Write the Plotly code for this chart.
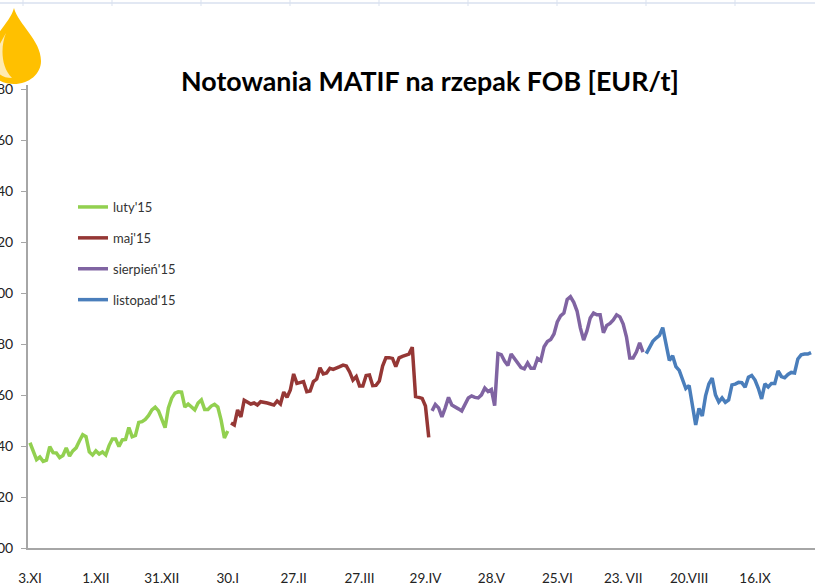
import plotly.graph_objects as go

W, H = 815, 585
L, R, T, B = 28, 0, 85, 37

tick_labels = ["3.XI", "1.XII", "31.XII", "30.I", "27.II", "27.III", "29.IV",
               "28.V", "25.VI", "23. VII", "20.VIII", "16.IX"]
y_ticks = [300, 320, 340, 360, 380, 400, 420, 440, 460, 480]

luty = [341.3, 337.7, 334.7, 335.7, 334.0, 334.5, 339.8, 337.4, 337.3, 335.5,
        336.3, 339.3, 336.1, 338.1, 339.3, 342.0, 344.5, 343.7, 337.7, 336.5,
        338.1, 336.9, 337.7, 336.5, 340.2, 342.8, 342.8, 339.8, 342.4, 342.6,
        347.3, 343.7, 344.2, 349.3, 349.6, 350.5, 352.0, 354.2, 355.3, 353.8,
        350.2, 347.2, 355.0, 358.8, 360.8, 361.3, 361.2, 355.3, 356.5, 355.3,
        354.2, 356.9, 358.1, 354.4, 354.4, 355.7, 356.4, 355.3, 350.2, 343.2,
        345.9]
maj = [349.1, 348.3, 354.2, 351.4, 358.0, 357.1, 356.5, 356.9, 356.1, 357.4,
       357.3, 356.9, 356.5, 356.1, 357.7, 356.5, 361.2, 359.1, 362.0, 368.3,
       364.6, 365.0, 365.3, 361.3, 361.6, 365.3, 366.3, 370.7, 368.3, 368.7,
       370.5, 370.1, 370.5, 371.2, 371.8, 371.4, 369.1, 365.9, 367.3, 363.6,
       363.6, 367.7, 367.9, 363.7, 363.8, 365.5, 371.4, 374.7, 374.7, 374.4,
       371.2, 374.6, 375.2, 375.5, 376.1, 378.8, 359.4, 359.1, 358.7, 355.7,
       343.4]
sierpien = [353.8, 356.3, 355.0, 351.5, 355.0, 359.1, 356.1, 355.5, 354.6, 353.8,
            356.1, 358.9, 359.7, 359.1, 358.9, 360.1, 362.8, 361.4, 362.2, 355.9,
            376.3, 375.9, 373.4, 371.6, 376.1, 374.2, 372.4, 370.8, 370.3, 372.6,
            370.5, 370.5, 374.4, 373.5, 379.0, 381.0, 381.8, 384.0, 388.7, 391.1,
            392.2, 397.5, 398.6, 396.4, 393.0, 386.4, 381.6, 385.2, 390.3, 392.2,
            391.5, 391.5, 384.5, 387.3, 388.1, 389.5, 391.5, 390.7, 387.9, 382.8,
            374.6, 374.6, 376.9, 380.5, 376.9]
listopad = [376.3, 378.7, 381.1, 382.4, 383.4, 386.5, 380.1, 373.6, 375.4, 371.2,
            369.7, 365.9, 362.6, 363.8, 355.0, 348.3, 354.8, 351.8, 359.7, 364.4,
            366.7, 360.1, 357.3, 358.9, 357.2, 358.1, 364.0, 364.3, 365.0, 364.9,
            363.1, 367.0, 367.7, 365.9, 362.7, 358.5, 364.4, 363.2, 364.6, 364.6,
            369.5, 367.3, 366.8, 368.1, 368.9, 368.7, 374.2, 375.8, 376.1, 376.1,
            376.7]

series = [("luty'15", luty, "#92d050"), ("maj'15", maj, "#953735"),
          ("sierpień'15", sierpien, "#8064a2"), ("listopad'15", listopad, "#4a7ebb")]

fig = go.Figure()
start = 0
for name, vals, col in series:
    fig.add_trace(go.Scatter(x=list(range(start, start + len(vals))), y=vals, mode="lines",
                             name=name, legendgroup=name,
                             line=dict(color=col, width=3.5, shape="linear")))
    start += len(vals)


def px(x):
    return (x - L) / (W - L - R)


def py(y):
    return 1 - (y - T) / (H - T - B)


def path(parts):
    out = []
    for p in parts:
        if isinstance(p, str):
            out.append(p)
        else:
            out.append(f"{px(p[0]):.5f},{py(p[1]):.5f}")
    return " ".join(out)


shapes = []
# spreadsheet gridlines behind the chart image, along the top edge
grid = "#d9e1ef"
shapes.append(dict(type="line", xref="paper", yref="paper", x0=px(0), x1=px(W), y0=py(3), y1=py(3),
                   line=dict(color=grid, width=1.5)))
for gx in range(23, 815, 89):
    shapes.append(dict(type="line", xref="paper", yref="paper", x0=px(gx), x1=px(gx),
                       y0=py(0), y1=py(6), line=dict(color=grid, width=1)))
# droplet logo
drop = path(["M", (14, 8), "C", (18, 24), (41, 40), (41, 61), "C", (41, 74), (29, 84), (14, 84),
             "C", (-1, 84), (-13, 74), (-13, 61), "C", (-13, 40), (10, 24), (14, 8), "Z"])
shapes.append(dict(type="path", xref="paper", yref="paper", path=drop,
                   fillcolor="#ffc000", line=dict(width=0)))
shine = path(["M", (6, 33), "C", (1, 45), (0, 66), (12, 78), "C", (3, 78), (-3, 74), (-6, 66),
              "C", (-6, 52), (1, 42), (6, 33), "Z"])
shapes.append(dict(type="path", xref="paper", yref="paper", path=shine,
                   fillcolor="#ffeab0", line=dict(width=0)))

fig.update_layout(
    width=W, height=H, autosize=False,
    margin=dict(l=L, r=R, t=T, b=B, pad=0),
    paper_bgcolor="white", plot_bgcolor="white",
    font=dict(family="Lato", color="#222222", size=13),
    title=dict(text="<b>Notowania MATIF na rzepak FOB [EUR/t]</b>",
               font=dict(family="Lato", size=26.8, color="black"),
               x=430 / W, xanchor="center", y=1 - 82 / H, yanchor="middle", automargin=False),
    showlegend=True,
    legend=dict(x=px(73), xanchor="left", y=py(192), yanchor="top",
                bgcolor="rgba(0,0,0,0)", borderwidth=0, tracegroupgap=11,
                font=dict(family="Lato", size=13, color="#333333"),
                itemwidth=30, traceorder="grouped"),
    shapes=shapes,
    xaxis=dict(range=[-0.6, 238.2], tickmode="array", automargin=False,
               tickvals=[i * 20 for i in range(len(tick_labels))], ticktext=tick_labels,
               ticks="", showgrid=False, zeroline=False, showline=True,
               linecolor="#a6a6a6", linewidth=2, ticklabelstandoff=17,
               tickfont=dict(family="Lato", size=13.5, color="#222222")),
    yaxis=dict(range=[300, 481.7], tickmode="array", tickvals=y_ticks, automargin=False,
               ticktext=[str(v) for v in y_ticks],
               ticks="outside", ticklen=5, tickwidth=1, tickcolor="#a6a6a6",
               showgrid=False, zeroline=False, showline=True,
               linecolor="#a6a6a6", linewidth=2, ticklabelstandoff=5,
               tickfont=dict(family="Lato", size=14, color="#222222")),
)

fig.write_html("out.html", config={"displayModeBar": False},
               post_script="document.body.style.margin='0';")
